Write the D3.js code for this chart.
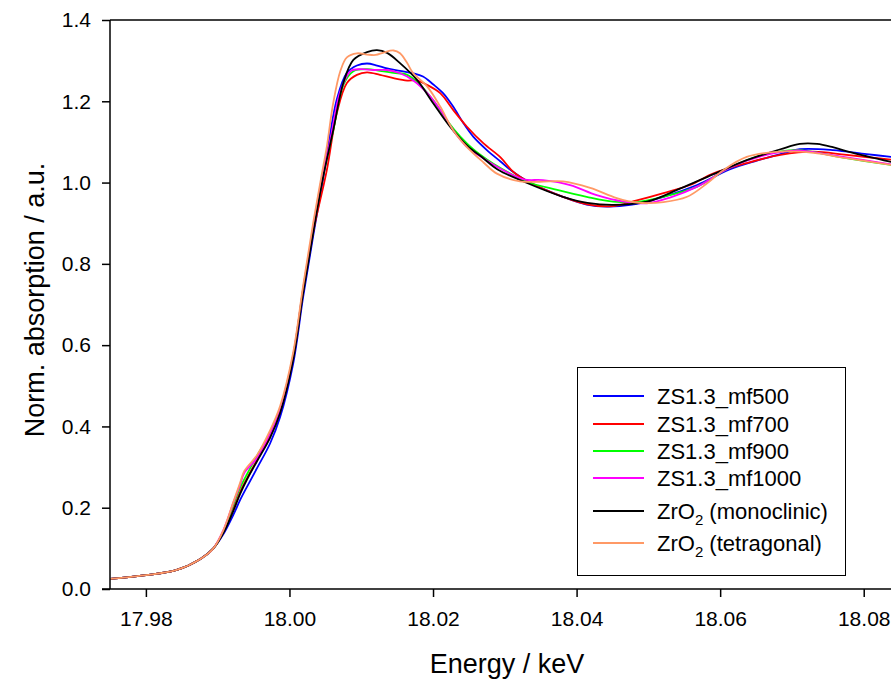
<!DOCTYPE html>
<html>
<head>
<meta charset="utf-8">
<script src="https://cdn.jsdelivr.net/npm/d3@7"></script>
<style>
  body { margin: 0; background: #fff; overflow: hidden; }
  text { font-family: "Liberation Sans", Arial, sans-serif; fill: #000; }
</style>
</head>
<body>
<div id="wrapper"></div>
<script>
// [energy keV, normalised absorption]
const preEdge = [[17.975, 0.025], [17.98, 0.034], [17.9843, 0.047], [17.9876, 0.074], [17.9894, 0.100]]

const mf500 = [[17.9908, 0.135], [17.9922, 0.183], [17.9931, 0.218], [17.9941, 0.252], [17.9955, 0.298], [17.9973, 0.358], [17.9987, 0.423],
  [18.0005, 0.553], [18.0019, 0.718], [18.0033, 0.868], [18.0046, 1.0], [18.0066, 1.205], [18.0080, 1.270], [18.0094, 1.288], [18.0108, 1.293],
  [18.0122, 1.288], [18.0136, 1.281], [18.0154, 1.275], [18.0172, 1.269], [18.0186, 1.261], [18.0200, 1.242], [18.0214, 1.220], [18.0228, 1.187],
  [18.0242, 1.147], [18.0256, 1.113], [18.0275, 1.080], [18.0294, 1.052], [18.0308, 1.031], [18.0335, 1.000], [18.0381, 0.965], [18.0414, 0.946],
  [18.0442, 0.941], [18.0475, 0.945], [18.0521, 0.965], [18.0568, 0.994], [18.0614, 1.033], [18.0651, 1.054], [18.0684, 1.070], [18.0711, 1.082],
  [18.0757, 1.080], [18.0804, 1.070], [18.0840, 1.063]]

const mf700 = [[17.9908, 0.140], [17.9922, 0.198], [17.9931, 0.238], [17.9941, 0.273], [17.9955, 0.318], [17.9973, 0.378], [17.9987, 0.438],
  [18.0005, 0.568], [18.0019, 0.733], [18.0033, 0.878], [18.0052, 1.030], [18.0066, 1.171], [18.0080, 1.245], [18.0094, 1.265], [18.0108, 1.271],
  [18.0126, 1.265], [18.0145, 1.257], [18.0164, 1.251], [18.0178, 1.251], [18.0192, 1.240], [18.0210, 1.220], [18.0228, 1.179], [18.0247, 1.138],
  [18.0270, 1.097], [18.0294, 1.062], [18.0312, 1.026], [18.0335, 1.000], [18.0381, 0.965], [18.0419, 0.945], [18.0451, 0.942], [18.0484, 0.956],
  [18.0521, 0.974], [18.0558, 0.994], [18.0590, 1.022], [18.0637, 1.048], [18.0684, 1.068], [18.0730, 1.076], [18.0776, 1.068], [18.0840, 1.056]]

const mf900 = [[17.9908, 0.142], [17.9922, 0.208], [17.9931, 0.248], [17.9941, 0.283], [17.9955, 0.328], [17.9973, 0.383], [17.9987, 0.443],
  [18.0005, 0.573], [18.0019, 0.738], [18.0033, 0.883], [18.0046, 1.010], [18.0061, 1.129], [18.0075, 1.240], [18.0089, 1.274], [18.0108, 1.279],
  [18.0126, 1.275], [18.0145, 1.270], [18.0164, 1.265], [18.0182, 1.240], [18.0200, 1.203], [18.0219, 1.154], [18.0238, 1.113], [18.0256, 1.082],
  [18.0275, 1.057], [18.0294, 1.036], [18.0331, 1.002], [18.0373, 0.982], [18.0414, 0.965], [18.0451, 0.953], [18.0484, 0.952], [18.0521, 0.965],
  [18.0568, 0.990], [18.0614, 1.037], [18.0660, 1.068], [18.0707, 1.080], [18.0776, 1.060], [18.0840, 1.043]]

const mf1000 = [[17.9908, 0.145], [17.9922, 0.213], [17.9931, 0.255], [17.9937, 0.285], [17.9955, 0.323], [17.9973, 0.383], [17.9987, 0.443],
  [18.0005, 0.573], [18.0019, 0.738], [18.0033, 0.888], [18.0045, 1.010], [18.0057, 1.105], [18.0071, 1.225], [18.0085, 1.274], [18.0099, 1.279],
  [18.0117, 1.277], [18.0136, 1.277], [18.0154, 1.269], [18.0172, 1.252], [18.0192, 1.220], [18.0210, 1.179], [18.0228, 1.129], [18.0247, 1.088],
  [18.0270, 1.060], [18.0294, 1.034], [18.0326, 1.008], [18.0353, 1.006], [18.0391, 0.994], [18.0428, 0.969], [18.0466, 0.953], [18.0498, 0.949],
  [18.0530, 0.963], [18.0568, 0.990], [18.0614, 1.037], [18.0660, 1.066], [18.0707, 1.079], [18.0753, 1.068], [18.0840, 1.044]]

const monoclinic = [[17.9908, 0.138], [17.9922, 0.193], [17.9931, 0.233], [17.9941, 0.270], [17.9955, 0.315], [17.9973, 0.372], [17.9987, 0.433],
  [18.0005, 0.563], [18.0019, 0.728], [18.0033, 0.876], [18.0046, 1.006], [18.0061, 1.129], [18.0075, 1.245], [18.0089, 1.302], [18.0108, 1.321],
  [18.0122, 1.326], [18.0136, 1.319], [18.0154, 1.294], [18.0178, 1.252], [18.0200, 1.196], [18.0224, 1.137], [18.0248, 1.090], [18.0270, 1.060],
  [18.0290, 1.032], [18.0331, 0.999], [18.0381, 0.965], [18.0415, 0.950], [18.0451, 0.945], [18.0498, 0.953], [18.0544, 0.985], [18.0590, 1.020],
  [18.0637, 1.055], [18.0684, 1.082], [18.0711, 1.095], [18.0735, 1.095], [18.0757, 1.087], [18.0781, 1.075], [18.0840, 1.050]]

const tetragonal = [[17.9908, 0.145], [17.9922, 0.215], [17.9931, 0.260], [17.9937, 0.290], [17.9955, 0.330], [17.9973, 0.390], [17.9987, 0.450],
  [18.0005, 0.580], [18.0019, 0.745], [18.0033, 0.900], [18.0045, 1.020], [18.0052, 1.088], [18.0061, 1.196], [18.0071, 1.275], [18.0080, 1.308],
  [18.0094, 1.318], [18.0108, 1.315], [18.0120, 1.314], [18.0131, 1.320], [18.0145, 1.325], [18.0154, 1.318], [18.0164, 1.294], [18.0172, 1.270],
  [18.0192, 1.236], [18.0210, 1.187], [18.0228, 1.129], [18.0247, 1.088], [18.0270, 1.050], [18.0289, 1.022], [18.0321, 1.003], [18.0349, 1.002],
  [18.0381, 1.003], [18.0419, 0.987], [18.0456, 0.962], [18.0484, 0.951], [18.0521, 0.952], [18.0554, 0.965], [18.0581, 0.997], [18.0604, 1.030],
  [18.0637, 1.063], [18.0684, 1.076], [18.0730, 1.073], [18.0776, 1.060], [18.0840, 1.043]]

const seriesNames = ["ZS1.3_mf500", "ZS1.3_mf700", "ZS1.3_mf900", "ZS1.3_mf1000", "ZrO|2| (monoclinic)", "ZrO|2| (tetragonal)"]
const seriesColors = ["#0000ff", "#ff0000", "#00ff00", "#ff00ff", "#000000", "#ff9966"]
const seriesData = [mf500, mf700, mf900, mf1000, monoclinic, tetragonal]

const xTicks = [17.98, 18.00, 18.02, 18.04, 18.06, 18.08]
const yTicks = [0.0, 0.2, 0.4, 0.6, 0.8, 1.0, 1.2, 1.4]

let dimensions = {
  width: 891,
  height: 682,
  left: 110,
  top: 20,
  bottom: 589,
  right: 891
}

const svg = d3.select("#wrapper")
  .append("svg")
  .attr("width", dimensions.width)
  .attr("height", dimensions.height)

const xScale = d3.scaleLinear()
  .domain([17.975, 18.0838])
  .range([dimensions.left, dimensions.right])

const yScale = d3.scaleLinear()
  .domain([0, 1.4])
  .range([dimensions.bottom, dimensions.top])

svg.append("clipPath")
  .attr("id", "plot-clip")
  .append("rect")
  .attr("x", dimensions.left)
  .attr("y", dimensions.top)
  .attr("width", dimensions.right - dimensions.left)
  .attr("height", dimensions.bottom - dimensions.top)

const line = d3.line()
  .x(d => xScale(d[0]))
  .y(d => yScale(d[1]))
  .curve(d3.curveCatmullRom.alpha(0.5))

svg.append("g")
  .attr("clip-path", "url(#plot-clip)")
  .selectAll("path")
  .data(seriesData)
  .join("path")
  .attr("d", d => line(preEdge.concat(d)))
  .attr("fill", "none")
  .attr("stroke", (d, i) => seriesColors[i])
  .attr("stroke-width", 1.8)

// axes
const xAxis = svg.append("g")
  .attr("transform", `translate(0, ${dimensions.bottom})`)
  .call(d3.axisBottom(xScale).tickValues(xTicks).tickFormat(d3.format(".2f")).tickSize(8).tickPadding(14))
xAxis.select(".domain").attr("d", `M${dimensions.left - 8},0H${dimensions.right}`)

const yAxis = svg.append("g")
  .attr("transform", `translate(${dimensions.left}, 0)`)
  .call(d3.axisLeft(yScale).tickValues(yTicks).tickFormat(d3.format(".1f")).tickSize(8).tickPadding(11))
yAxis.select(".domain").attr("d", `M0,${dimensions.top}V${dimensions.bottom}`)

svg.selectAll(".tick text")
  .attr("font-size", "21px")
  .attr("font-family", "Liberation Sans, Arial, sans-serif")
  .attr("fill", "#000")
svg.selectAll(".domain, .tick line")
  .attr("stroke", "#000")
  .attr("stroke-width", 1.5)

// top frame line
svg.append("line")
  .attr("x1", dimensions.left)
  .attr("x2", dimensions.right)
  .attr("y1", dimensions.top)
  .attr("y2", dimensions.top)
  .attr("stroke", "#000")
  .attr("stroke-width", 1.5)

svg.append("text")
  .attr("x", 507)
  .attr("y", 673)
  .attr("text-anchor", "middle")
  .attr("font-size", "27px")
  .text("Energy / keV")

svg.append("text")
  .attr("transform", `translate(44, 300) rotate(-90)`)
  .attr("text-anchor", "middle")
  .attr("font-size", "27px")
  .text("Norm. absorption / a.u.")

// legend
const legend = svg.append("g")
legend.append("rect")
  .attr("x", 577.5)
  .attr("y", 367.5)
  .attr("width", 268)
  .attr("height", 208)
  .attr("fill", "#fff")
  .attr("stroke", "#000")
  .attr("stroke-width", 1)

const legendRows = [396, 424, 451, 478, 511, 543]
seriesNames.forEach((name, i) => {
  legend.append("line")
    .attr("x1", 593)
    .attr("x2", 644)
    .attr("y1", legendRows[i])
    .attr("y2", legendRows[i])
    .attr("stroke", seriesColors[i])
    .attr("stroke-width", 2)
  const t = legend.append("text")
    .attr("x", 657)
    .attr("y", legendRows[i] + 8)
    .attr("font-size", "22px")
  const parts = name.split("|")
  t.append("tspan").text(parts[0])
  if (parts.length > 1) {
    t.append("tspan").attr("font-size", "15px").attr("dy", 6).text(parts[1])
    t.append("tspan").attr("dy", -6).text(parts[2])
  }
})
</script>
</body>
</html>
